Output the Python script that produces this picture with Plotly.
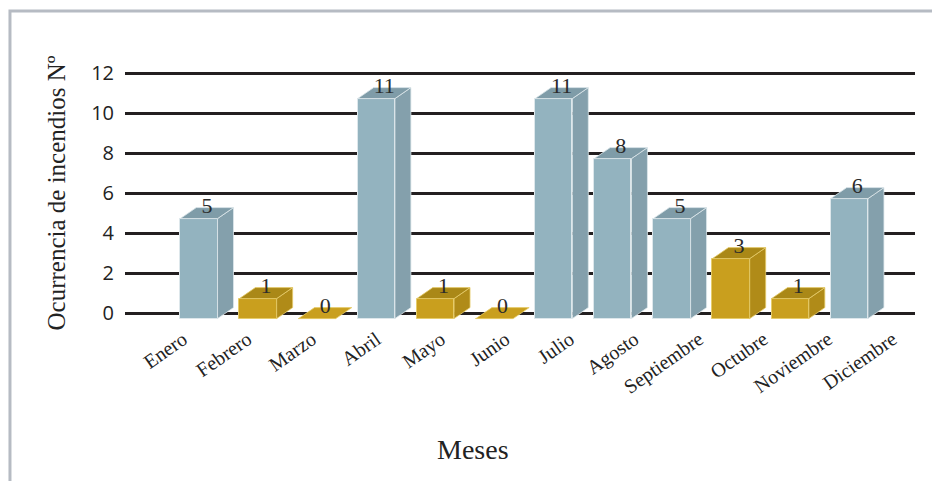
import plotly.graph_objects as go

# data
meses = ["Enero", "Febrero", "Marzo", "Abril", "Mayo", "Junio", "Julio",
         "Agosto", "Septiembre", "Octubre", "Noviembre", "Diciembre"]
incendios = [5, 1, 0, 11, 1, 0, 11, 8, 5, 3, 1, 6]
y_ticks = [0, 2, 4, 6, 8, 10, 12]

# pseudo-3D geometry (data units)
half_w = 0.315
dx, dy = 0.27, 0.55
base = -0.28

BLUE = {"front": "#93b3bf", "side": "#84a0ac", "top": "#7f9ca8", "edge": "#dde7eb"}
GOLD = {"front": "#c99f1e", "side": "#b08b18", "top": "#aa8817", "edge": "#e6cc6a"}


def palette(v):
    return BLUE if v >= 4 else GOLD


xs = list(range(len(meses)))

fig = go.Figure()

# front faces
fig.add_trace(go.Bar(
    x=xs, y=incendios, base=base, width=2 * half_w,
    marker=dict(color=[palette(v)["front"] for v in incendios],
                line=dict(color=[palette(v)["edge"] for v in incendios], width=1)),
    hoverinfo="skip", showlegend=False,
))

# side and top faces
for pal in (BLUE, GOLD):
    sx, sy, tx, ty = [], [], [], []
    zx, zy = [], []
    for i, v in zip(xs, incendios):
        if palette(v) is not pal:
            continue
        top = base + v
        if v > 0:
            sx += [i + half_w, i + half_w + dx, i + half_w + dx, i + half_w, i + half_w, None]
            sy += [base, base + dy, top + dy, top, base, None]
            tx += [i - half_w, i - half_w + dx, i + half_w + dx, i + half_w, i - half_w, None]
            ty += [top, top + dy, top + dy, top, top, None]
        else:
            zx += [i - half_w, i - half_w + dx, i + half_w + dx, i + half_w, i - half_w, None]
            zy += [top, top + dy, top + dy, top, top, None]
    for px, py, col in ((sx, sy, pal["side"]), (tx, ty, pal["top"]), (zx, zy, pal["front"])):
        if px:
            fig.add_trace(go.Scatter(
                x=px, y=py, mode="lines", fill="toself", fillcolor=col,
                line=dict(color=pal["edge"], width=0.8),
                hoverinfo="skip", showlegend=False,
            ))

# value labels
fig.add_trace(go.Scatter(
    x=[i + dx / 2 for i in xs], y=[v + 0.3 for v in incendios],
    mode="text", text=[str(v) for v in incendios], textposition="middle center",
    textfont=dict(family="Liberation Serif", size=22, color="#2b2b2b"),
    hoverinfo="skip", showlegend=False,
))

# carrier for the month labels axis
fig.add_trace(go.Scatter(x=[], y=[], xaxis="x2", showlegend=False))

# page body has an 8px margin, margins below compensate for it
fig.update_layout(
    width=940, height=481,
    margin=dict(l=117, r=33, t=55, b=166),
    paper_bgcolor="white", plot_bgcolor="white",
    xaxis=dict(range=[-1.25, 12.11], showticklabels=False, showgrid=False,
               zeroline=False, showline=False, ticks=""),
    xaxis2=dict(overlaying="x", anchor="y", side="bottom",
                range=[-0.9, 11.35], tickvals=xs, ticktext=meses,
                tickangle=-35, showgrid=False, zeroline=False, showline=False,
                ticks="", tickfont=dict(family="Liberation Serif", size=20, color="#222")),
    yaxis=dict(range=[-0.5, 12.5], tickvals=y_ticks, showgrid=True,
               gridcolor="#231f20", gridwidth=2.5, zeroline=False, showline=False,
               ticks="", ticklabelstandoff=10,
               tickfont=dict(family="Open Sans", size=20, color="#222"),
               title=dict(text="Ocurrencia de incendios Nº", standoff=18,
                          font=dict(family="Liberation Serif", size=25, color="#222"))),
    bargap=0,
    annotations=[dict(text="Meses", xref="paper", yref="paper", x=0.44, y=-0.488,
                      showarrow=False, xanchor="center", yanchor="middle",
                      font=dict(family="Liberation Serif", size=28, color="#222"))],
    shapes=[dict(type="rect", xref="paper", yref="paper",
                 x0=-0.1456, x1=1.06, y0=-0.7, y1=1.2,
                 line=dict(color="#b6bbc3", width=3), layer="below")],
)

fig.write_html("out.html")
